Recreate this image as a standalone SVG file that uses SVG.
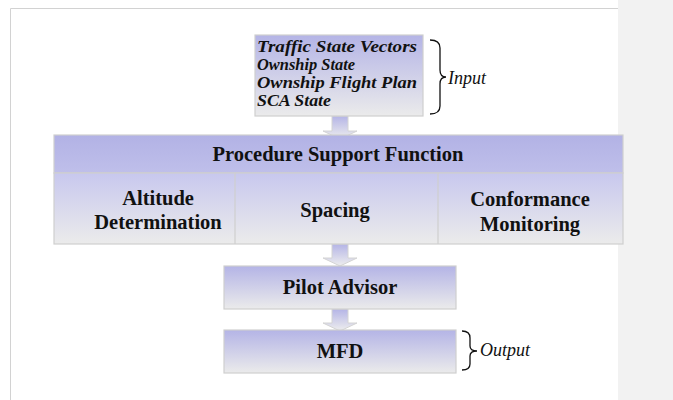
<svg xmlns="http://www.w3.org/2000/svg" width="673" height="400" viewBox="0 0 673 400">
<defs>
<linearGradient id="gBox" x1="0" y1="0" x2="0" y2="1">
<stop offset="0" stop-color="#b4b4e6"/>
<stop offset="1" stop-color="#ebebeb"/>
</linearGradient>
<linearGradient id="gHead" x1="0" y1="0" x2="0" y2="1">
<stop offset="0" stop-color="#b2b2e5"/>
<stop offset="1" stop-color="#bfbfea"/>
</linearGradient>
<linearGradient id="gRow" x1="0" y1="0" x2="0" y2="1">
<stop offset="0" stop-color="#c8c8ee"/>
<stop offset="1" stop-color="#ebebeb"/>
</linearGradient>
<linearGradient id="gArrow" x1="0" y1="0" x2="0" y2="1">
<stop offset="0" stop-color="#b4b4e6"/>
<stop offset="1" stop-color="#eeeeee"/>
</linearGradient>
</defs>
<style>
.box{stroke:#cfcfcf;stroke-width:1.2}
.arrow{fill:url(#gArrow);stroke:#d4d4d4;stroke-width:1}
.b{font-family:"Liberation Serif","Times New Roman",serif;font-weight:bold;font-size:20.5px;fill:#111;text-anchor:middle}
.bi{font-family:"Liberation Serif","Times New Roman",serif;font-weight:bold;font-style:italic;font-size:16px;fill:#111}
.i{font-family:"Liberation Serif","Times New Roman",serif;font-style:italic;font-size:18px;fill:#111}
.brace{fill:none;stroke:#111;stroke-width:1.3}
</style>
<rect x="0" y="0" width="673" height="400" fill="#ffffff"/>
<rect x="618" y="0" width="55" height="400" fill="#f2f2f2"/>
<path d="M10.5 400 V8.5 H618" fill="none" stroke="#d2d2d2" stroke-width="1"/>

<g id="connectors">
<path class="arrow" d="M332 116 H348 V131 H357 L340 139 L323 131 H332 Z"/>
<path class="arrow" d="M332 244 H348 V258 H357 L340 266 L323 258 H332 Z"/>
<path class="arrow" d="M332 309 H348 V323 H357 L340 331 L323 323 H332 Z"/>
</g>

<g id="input">
<rect class="box" x="255" y="35" width="168" height="81" fill="url(#gBox)"/>
<text class="bi" x="257" y="51.5" textLength="160" lengthAdjust="spacingAndGlyphs">Traffic State Vectors</text>
<text class="bi" x="257" y="69.5" textLength="98" lengthAdjust="spacingAndGlyphs">Ownship State</text>
<text class="bi" x="257" y="87.5" textLength="160" lengthAdjust="spacingAndGlyphs">Ownship Flight Plan</text>
<text class="bi" x="257" y="105.5" textLength="74" lengthAdjust="spacingAndGlyphs">SCA State</text>
<path class="brace" d="M430 40 Q440 40 440 48 V70 Q440 77 446 77 Q440 77 440 84 V106 Q440 114 430 114"/>
<text class="i" x="448" y="84">Input</text>
</g>

<g id="psf">
<rect class="box" x="54" y="135" width="569" height="38" fill="url(#gHead)"/>
<rect class="box" x="54" y="173" width="569" height="71" fill="url(#gRow)"/>
<line x1="235" y1="173" x2="235" y2="244" stroke="#cfcfcf" stroke-width="1.2"/>
<line x1="438" y1="173" x2="438" y2="244" stroke="#cfcfcf" stroke-width="1.2"/>
<text class="b" x="338" y="161">Procedure Support Function</text>
</g>
<g id="altitude">
<text class="b" x="158" y="205">Altitude</text>
<text class="b" x="158" y="229">Determination</text>
</g>
<g id="spacing">
<text class="b" x="335" y="217">Spacing</text>
</g>
<g id="conformance">
<text class="b" x="530" y="206">Conformance</text>
<text class="b" x="530" y="231">Monitoring</text>
</g>

<g id="pilot">
<rect class="box" x="224" y="266" width="232" height="43" fill="url(#gBox)"/>
<text class="b" x="340" y="294">Pilot Advisor</text>
</g>

<g id="mfd">
<rect class="box" x="224" y="330" width="232" height="43" fill="url(#gBox)"/>
<text class="b" x="340" y="358">MFD</text>
<path class="brace" d="M462 331 Q470 331 470 338 V346 Q470 351 477 351 Q470 351 470 356 V364 Q470 370 462 370"/>
<text class="i" x="480" y="356">Output</text>
</g>
</svg>
